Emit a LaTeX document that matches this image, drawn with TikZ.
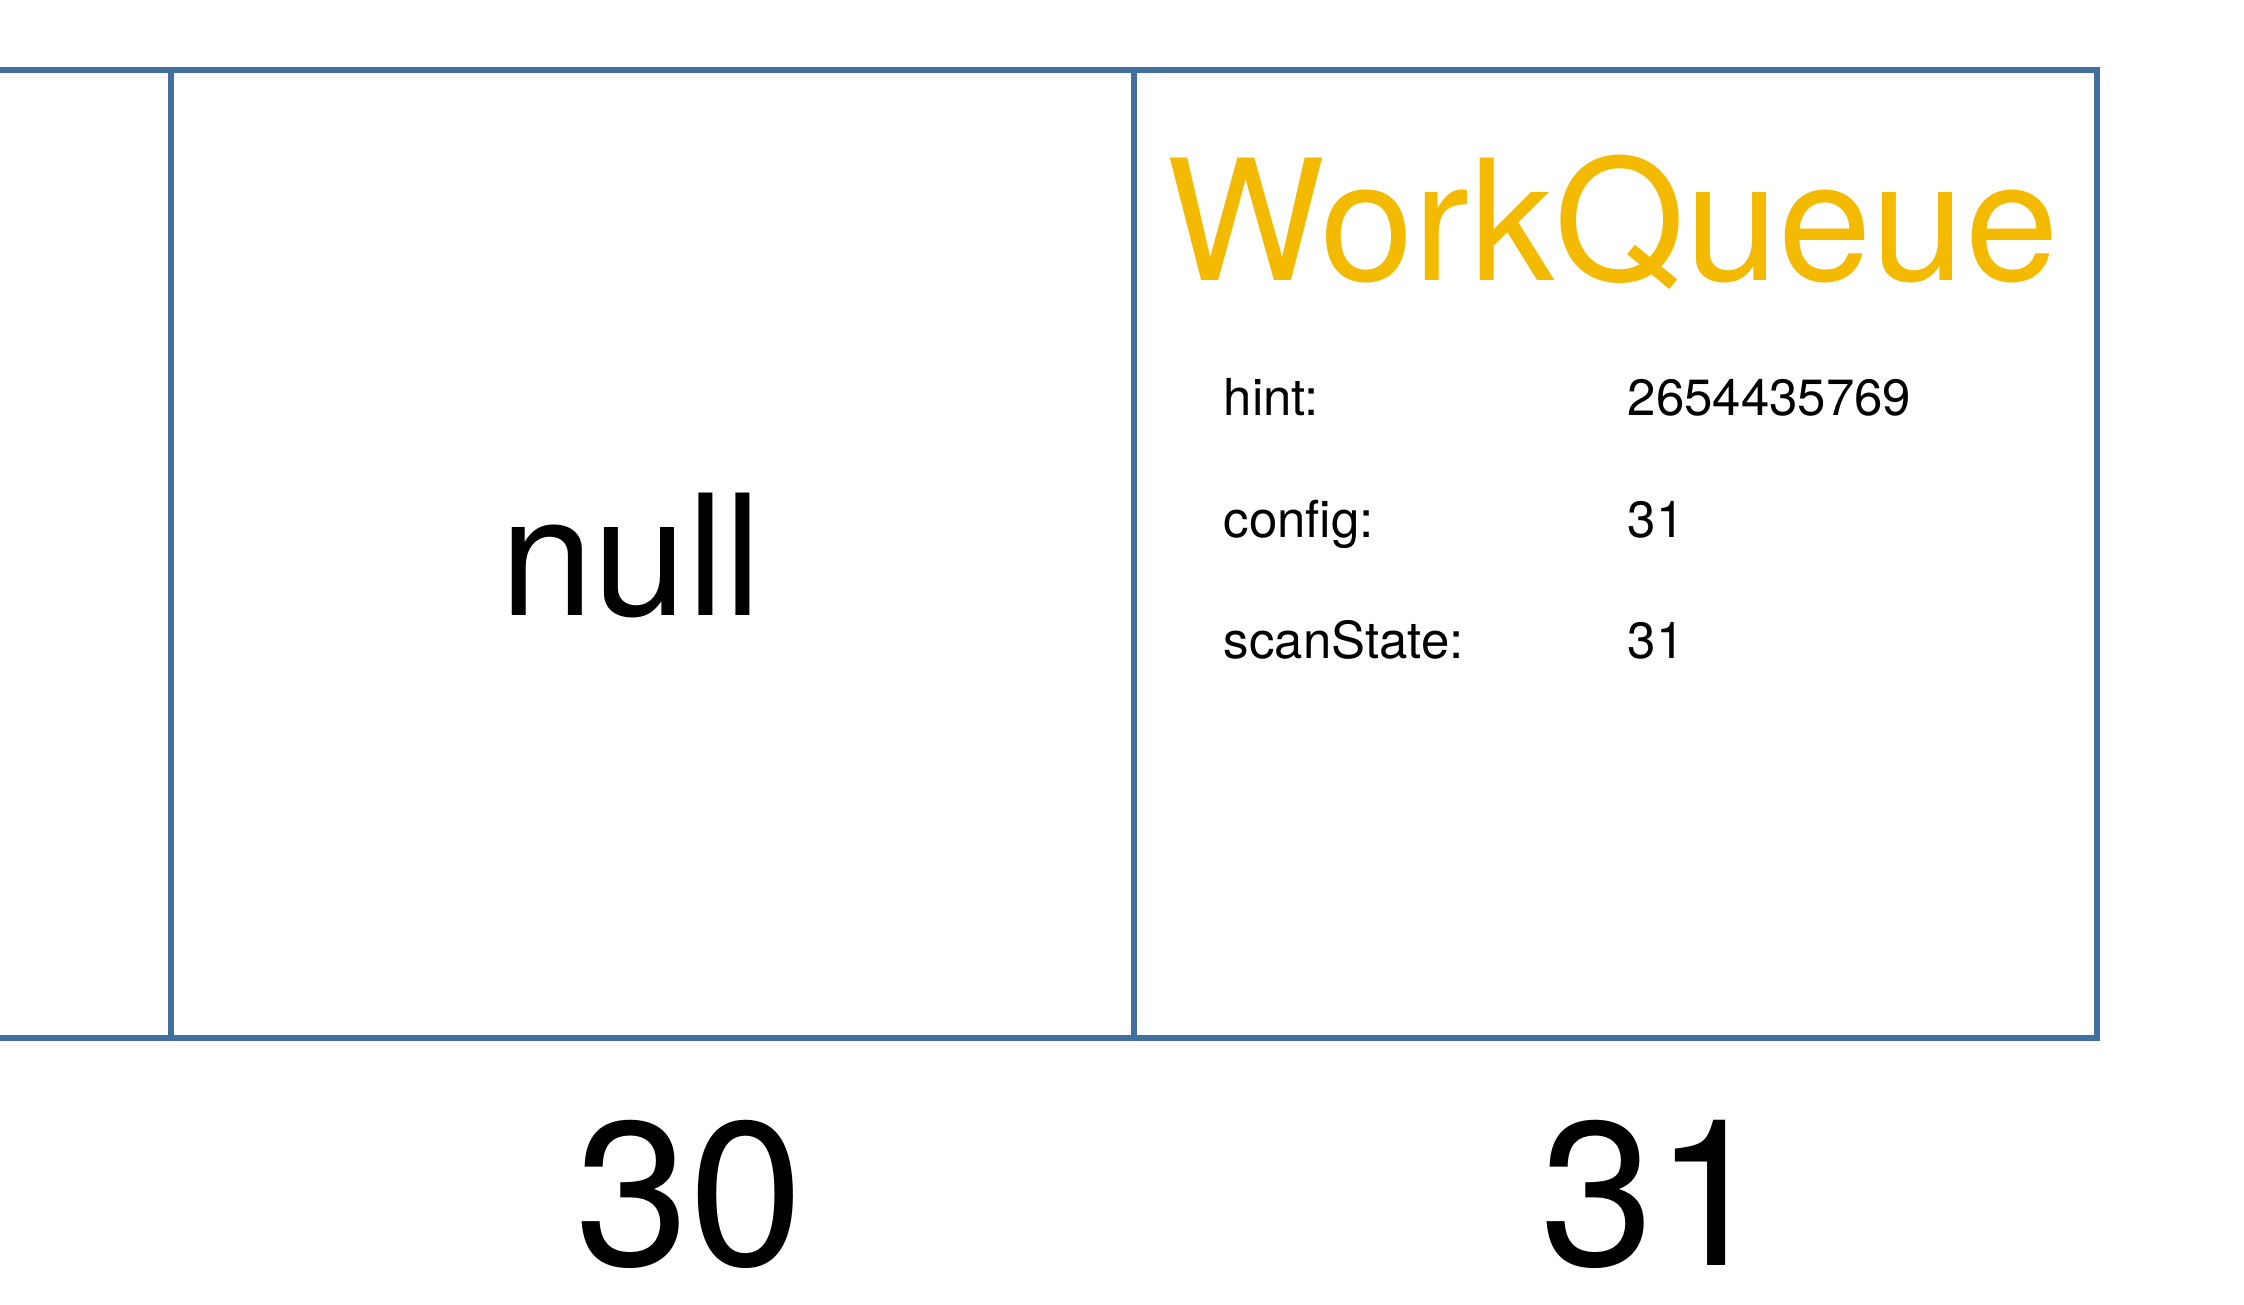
\documentclass[tikz,border=0pt]{standalone}
\usepackage{fontspec}
\setmainfont{TeX Gyre Heros}
\usetikzlibrary{positioning}
\definecolor{cellblue}{RGB}{65,112,158}
\definecolor{queueyellow}{RGB}{244,186,0}
\tikzstyle{cell} = [draw=cellblue,line width=0.06cm,minimum width=9.63cm,minimum height=9.68cm,inner sep=0pt,outer sep=0pt]
\tikzstyle{bigtext} = [inner sep=0pt,anchor=base,font=\fontsize{47.8}{57}\selectfont]
\tikzstyle{indextext} = [inner sep=0pt,anchor=base,font=\fontsize{58.3}{70}\selectfont]
\tikzstyle{fieldtext} = [inner sep=0pt,anchor=base west,font=\fontsize{14.5}{17}\selectfont]

\begin{document}
\begin{tikzpicture}
  \clip (0,0) rectangle (22.44,13.04);
  \fill[white] (0,0) rectangle (22.44,13.04);
  % array slots
  \node[cell] (cell30) at (6.525,7.50) {};
  \node[cell,left=0cm of cell30] (cell29) {};
  \node[cell,right=0cm of cell30] (cell31) {};
  % slot contents
  \node[bigtext] (null30) at (6.31,6.89) {null};
  \node[bigtext,anchor=base west,text=queueyellow] (queue31) at (11.66,10.23) {WorkQueue};
  \node[fieldtext] (hintkey) at (12.23,8.89) {hint:};
  \node[fieldtext] (hintval) at (16.27,8.89) {2654435769};
  \node[fieldtext] (configkey) at (12.23,7.67) {config:};
  \node[fieldtext] (configval) at (16.27,7.67) {31};
  \node[fieldtext] (scankey) at (12.23,6.46) {scanState:};
  \node[fieldtext] (scanval) at (16.27,6.46) {31};
  % indices
  \node[indextext] (index30) at (6.89,0.39) {30};
  \node[indextext] (index31) at (16.54,0.39) {31};
\end{tikzpicture}
\end{document}
